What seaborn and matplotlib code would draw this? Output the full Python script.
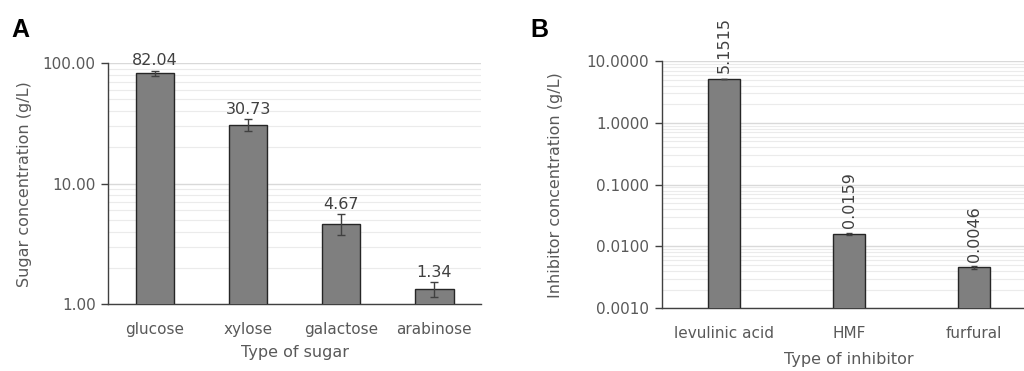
import matplotlib
matplotlib.use("Agg")
import matplotlib.pyplot as plt
import seaborn as sns
import pandas as pd
import numpy as np
from matplotlib.ticker import FixedLocator, LogLocator, NullFormatter

sugars = ["glucose", "xylose", "galactose", "arabinose"]
sugar_values = [82.04, 30.73, 4.67, 1.34]
sugar_err = [4.5, 3.5, 0.9, 0.2]
sugar_labels = ["82.04", "30.73", "4.67", "1.34"]
sugar_ticks = [1, 10, 100]
sugar_ticklabels = ["1.00", "10.00", "100.00"]

inhibitors = ["levulinic acid", "HMF", "furfural"]
inhibitor_values = [5.1515, 0.0159, 0.0046]
inhibitor_err = [0.05, 0.0005, 0.0002]
inhibitor_labels = ["5.1515", "0.0159", "0.0046"]
inhibitor_ticks = [0.001, 0.01, 0.1, 1, 10]
inhibitor_ticklabels = ["0.0010", "0.0100", "0.1000", "1.0000", "10.0000"]

sns.set_theme(style="white")
plt.rcParams["font.family"] = ["DejaVu Sans"]

TXT = "#595959"
BAR = "#7f7f7f"
EDGE = "#262626"
SPINE = "#404040"

fig = plt.figure(figsize=(10.24, 3.71), dpi=100)
axA = fig.add_axes([108.3 / 1024, 1 - 304.3 / 371, 372.7 / 1024, (304.3 - 63) / 371])
axB = fig.add_axes([661.7 / 1024, 1 - 308.3 / 371, 375 / 1024, (308.3 - 61) / 371])


def style(ax, ticks, ticklabels, ymin, ymax, ylabel, xlabel, ylabelpad, xlabelpad):
    ax.set_yscale("log")
    ax.set_ylim(ymin, ymax)
    ax.yaxis.set_major_locator(FixedLocator(ticks))
    ax.set_yticklabels(ticklabels)
    ax.yaxis.set_minor_locator(LogLocator(base=10, subs=np.arange(2, 10)))
    ax.yaxis.set_minor_formatter(NullFormatter())
    ax.grid(True, which="major", axis="y", color="#d9d9d9", linewidth=1.0, zorder=0)
    ax.grid(True, which="minor", axis="y", color="#ebebeb", linewidth=0.8, zorder=0)
    ax.set_axisbelow(True)
    for s in ["top", "right"]:
        ax.spines[s].set_visible(False)
    for s in ["left", "bottom"]:
        ax.spines[s].set_color(SPINE)
        ax.spines[s].set_linewidth(1.0)
    ax.tick_params(axis="y", which="major", left=True, length=5, width=1.0,
                   color=SPINE, labelsize=11, labelcolor=TXT, pad=4)
    ax.tick_params(axis="y", which="minor", left=False)
    ax.tick_params(axis="x", bottom=False, labelsize=11, labelcolor=TXT, pad=6.5)
    ax.set_ylabel(ylabel, fontsize=11.5, color=TXT, labelpad=ylabelpad)
    ax.set_xlabel(xlabel, fontsize=11.5, color=TXT, labelpad=xlabelpad)


dfA = pd.DataFrame({"sugar": sugars, "value": sugar_values})
sns.barplot(data=dfA, x="sugar", y="value", ax=axA, color=BAR, width=0.41,
            edgecolor=EDGE, linewidth=1.0, saturation=1, zorder=3)
axA.errorbar(np.arange(len(sugars)), sugar_values, yerr=sugar_err, fmt="none",
             ecolor=SPINE, elinewidth=1.0, capsize=3, capthick=1.0, zorder=4)
axA.set_xlim(-0.5, len(sugars) - 0.5)
style(axA, sugar_ticks, sugar_ticklabels, 1, 100, "Sugar concentration (g/L)",
      "Type of sugar", 8, 6)
for i, (v, e, lab) in enumerate(zip(sugar_values, sugar_err, sugar_labels)):
    axA.annotate(lab, (i, v + e), xytext=(0, 1.5), textcoords="offset points",
                 ha="center", va="bottom", fontsize=11.5, color="#404040",
                 zorder=5)

dfB = pd.DataFrame({"inhibitor": inhibitors, "value": inhibitor_values})
sns.barplot(data=dfB, x="inhibitor", y="value", ax=axB, color=BAR, width=0.256,
            edgecolor=EDGE, linewidth=1.0, saturation=1, zorder=3)
axB.errorbar(np.arange(len(inhibitors)), inhibitor_values, yerr=inhibitor_err,
             fmt="none", ecolor=SPINE, elinewidth=1.0, capsize=2, capthick=1.0,
             zorder=4)
axB.set_xlim(-0.5, len(inhibitors) - 0.5)
style(axB, inhibitor_ticks, inhibitor_ticklabels, 0.001, 10,
      "Inhibitor concentration (g/L)", "Type of inhibitor", 17, 8)
axB.bar_label(axB.containers[0], labels=inhibitor_labels, padding=4,
              fontsize=11.5, color="#404040", rotation=90)

fig.text(11.7 / 1024, 1 - 37 / 371, "A", fontsize=18, fontweight="bold",
         color="black", family="Liberation Sans", va="baseline")
fig.text(530 / 1024, 1 - 37 / 371, "B", fontsize=18, fontweight="bold",
         color="black", family="Liberation Sans", va="baseline")

fig.savefig("out.png", dpi=100)
